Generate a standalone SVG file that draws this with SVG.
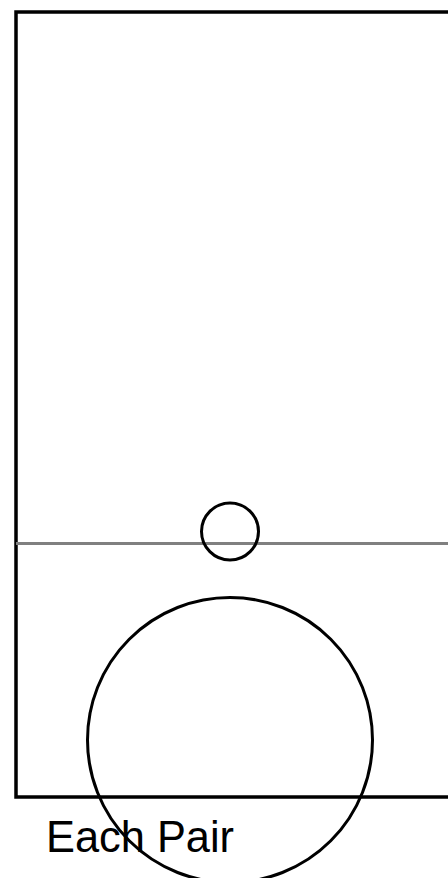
<svg xmlns="http://www.w3.org/2000/svg" width="448" height="878" viewBox="0 0 448 878">
<style>
.frame{fill:none;stroke:#000;stroke-width:3.5}
.node{fill:none;stroke:#000;stroke-width:3}
.axis{stroke:#808080;stroke-width:3}
.label{font-family:"Liberation Sans",Arial,sans-serif;font-size:45px;fill:#000}
</style>
<rect width="448" height="878" fill="#fff"/>
<g id="frame"><rect class="frame" x="16" y="12" width="460" height="785"/></g>
<g id="connectors"><line class="axis" x1="16" y1="543.5" x2="448" y2="543.5"/></g>
<g id="small-circle"><circle class="node" cx="230" cy="531.5" r="28.5"/></g>
<g id="large-circle"><circle class="node" cx="230" cy="740" r="142.5"/></g>
<g id="label"><text class="label" x="46" y="852" textLength="188" lengthAdjust="spacingAndGlyphs">Each Pair</text></g>
</svg>
